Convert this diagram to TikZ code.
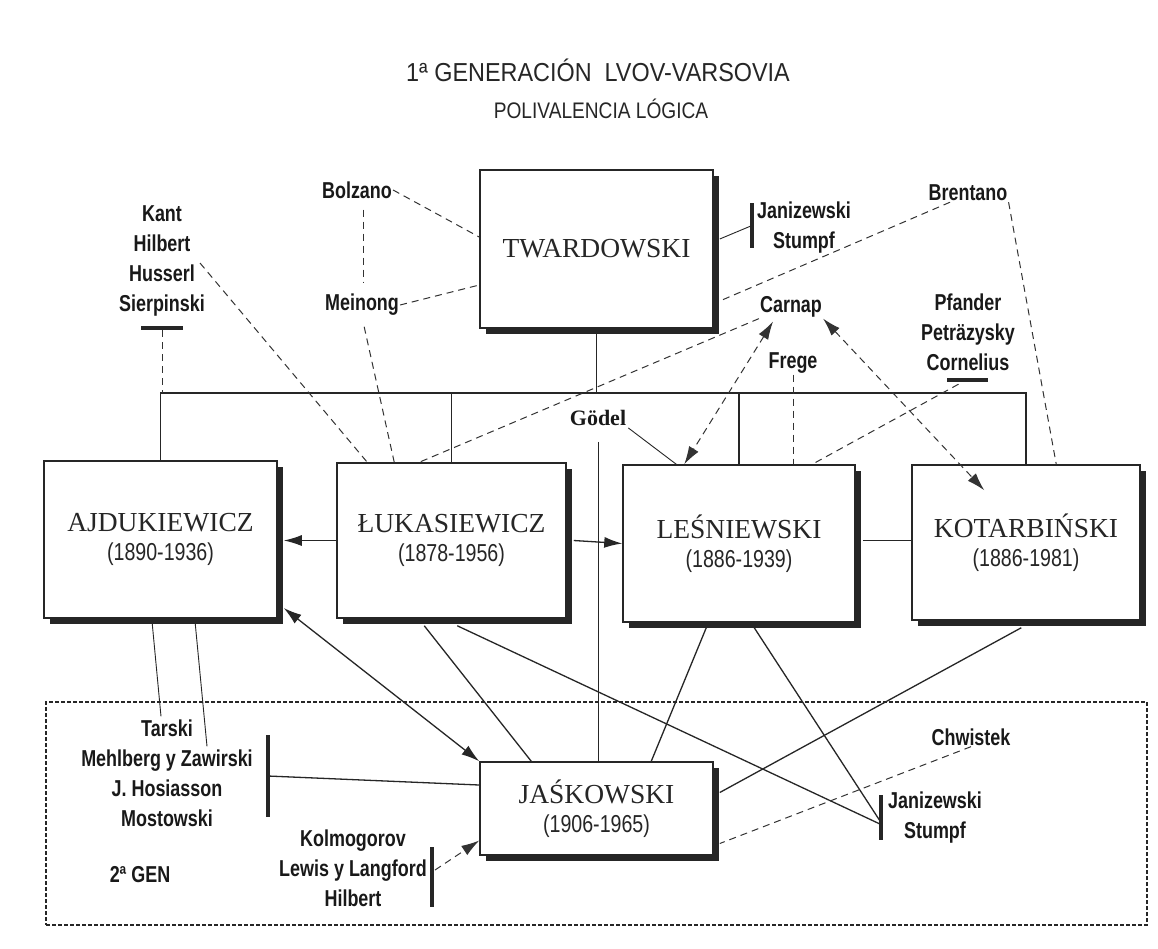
\documentclass[tikz,border=0pt]{standalone}
\usepackage{fontspec}
\setmainfont{Liberation Serif}
\newfontfamily\nsans[FakeStretch=0.78]{Liberation Sans}
\newfontfamily\ssans[FakeStretch=0.85]{Liberation Sans}
\newfontfamily\tsans[FakeStretch=0.9]{Liberation Sans}
\newfontfamily\ysans[FakeStretch=0.8]{Liberation Sans}
\usetikzlibrary{arrows.meta,shadows,calc}
\newcommand{\yrs}[1]{{\ysans\fontsize{24.5}{29}\selectfont #1}}
\begin{document}
\begin{tikzpicture}[x=1pt,y=-1pt,
 pbox/.style={draw=black!85, line width=1.5pt, fill=white, inner sep=0pt,
   drop shadow={shadow xshift=6pt, shadow yshift=-6pt, fill=black!85, opacity=1},
   align=center, font=\fontsize{27.5}{29}\selectfont, text=black!85},
 lbl/.style={inner sep=1pt, align=center, font=\nsans\bfseries\fontsize{23}{30}\selectfont, text=black!90},
 bar/.style={fill=black!85, inner sep=0pt},
 conn/.style={draw=black!85, line width=1.3pt},
 thinl/.style={draw=black!85, line width=0.9pt},
 dsh/.style={draw=black!80, line width=1pt, dash pattern=on 7pt off 5pt},
 arr/.style={-{Latex[length=18pt,width=11pt]}},
 darr/.style={{Latex[length=18pt,width=11pt]}-{Latex[length=18pt,width=11pt]}},
]
\useasboundingbox[fill=white] (0,0) rectangle (1158,948);

% second generation frame
\node[draw=black!85, line width=1.5pt, dash pattern=on 4pt off 2pt, minimum width=1101pt, minimum height=223pt, inner sep=0pt] (gen2) at (596.5,813.5) {};

% titles
\node[font=\tsans\fontsize{26}{30}\selectfont, text=black!85] (title) at (598,70) {1ª GENERACIÓN\ \ LVOV-VARSOVIA};
\node[font=\ssans\fontsize{22.5}{26}\selectfont, text=black!85] (sub) at (601,109) {POLIVALENCIA LÓGICA};

% main boxes
\node[pbox, minimum width=233pt, minimum height=158pt] (tw) at (596.5,249) {TWARDOWSKI};
\node[pbox, minimum width=233pt, minimum height=157pt] (ajd) at (160.5,539.5) {AJDUKIEWICZ\\\yrs{(1890-1936)}};
\node[pbox, minimum width=229pt, minimum height=155pt] (luk) at (451.5,540.5) {ŁUKASIEWICZ\\\yrs{(1878-1956)}};
\node[pbox, minimum width=232pt, minimum height=157pt] (les) at (739,543.5) {LEŚNIEWSKI\\\yrs{(1886-1939)}};
\node[pbox, minimum width=228pt, minimum height=155pt] (kot) at (1026,542.5) {KOTARBIŃSKI\\\yrs{(1886-1981)}};
\node[pbox, minimum width=233pt, minimum height=93pt] (jas) at (596.5,808.5) {JAŚKOWSKI\\\yrs{(1906-1965)}};

% labels
\node[lbl] (kant) at (162,261) {Kant\\Hilbert\\Husserl\\Sierpinski};
\node[lbl] (bolzano) at (357,190) {Bolzano};
\node[lbl] (meinong) at (362,305) {Meinong};
\node[lbl] (janT) at (804,228) {Janizewski\\Stumpf};
\node[lbl] (brentano) at (968,193) {Brentano};
\node[lbl] (carnap) at (791,307) {Carnap};
\node[lbl] (frege) at (793,363) {Frege};
\node[lbl] (pfander) at (968,332) {Pfander\\Peträzysky\\Cornelius};
\node[inner sep=2pt, font=\bfseries\fontsize{22}{26}\selectfont, text=black!90] (godel) at (598,418) {Gödel};
\node[lbl] (tarski) at (167,773) {Tarski\\Mehlberg y Zawirski\\J. Hosiasson\\Mostowski};
\node[lbl] (kolmo) at (353,868) {Kolmogorov\\Lewis y Langford\\Hilbert};
\node[lbl] (janB) at (935,818) {Janizewski\\Stumpf};
\node[lbl] (chwistek) at (971,737) {Chwistek};
\node[lbl] (gen) at (140,875) {2ª GEN};

% bars
\node[bar, minimum width=42pt, minimum height=4pt] (kbar) at (162,328) {};
\node[bar, minimum width=41pt, minimum height=4pt] (pbar) at (967.5,380) {};
\node[bar, minimum width=4pt, minimum height=45pt] (jbarT) at (752,225.5) {};
\node[bar, minimum width=4.5pt, minimum height=82pt] (tbar) at (268,776) {};
\node[bar, minimum width=4.5pt, minimum height=60pt] (kbarB) at (432,877) {};
\node[bar, minimum width=4.5pt, minimum height=45pt] (jbarB) at (881,817.5) {};

% bus
\coordinate (bus) at (0,393);
\draw[conn] (ajd.north) -- (ajd.north |- bus) -- (kot.north |- bus) -- (kot.north);
\draw[conn] (tw.south) -- (tw.south |- bus);
\draw[conn] (luk.north) -- (luk.north |- bus);
\draw[conn] (les.north) -- (les.north |- bus);
\draw[dsh] (kbar.south) -- (kbar.south |- bus);

% top dashed influences
\draw[dsh] (bolzano.east) -- ($(tw.west)+(0,-12)$);
\draw[dsh] (meinong.east) -- ($(tw.west)+(0,36)$);
\draw[dsh] ($(bolzano.south)+(6,10)$) -- ($(meinong.north)+(1,-10)$);
\draw[dsh, shorten <=10pt] (meinong.south) -- ($(luk.north west)+(58,0)$);
\draw[dsh] ($(kant.center)+(38,2)$) -- ($(luk.north west)+(31,0)$);
\draw[dsh] (carnap.south west) -- ($(luk.north west)+(83,0)$);
\draw[dsh] ($(brentano.south)+(-18,0)$) -- ($(tw.east)+(6,52)$);
\draw[dsh] (brentano.south east) -- ($(kot.north west)+(145,0)$);
\draw[thinl] ($(tw.east)+(6,-10)$) -- (jbarT.center);
\draw[dsh, darr] ($(carnap.south)+(-18,3)$) -- ($(les.north west)+(62,0)$);
\draw[dsh, darr] (carnap.south east) -- ($(kot.north west)+(73,26)$);
\draw[dsh] (frege.south) -- (frege.south |- les.north);
\draw[dsh] ($(pbar.south)+(-9,2)$) -- ($(les.north west)+(190,0)$);
\draw[thinl] (godel.south east) -- ($(les.north west)+(54,0)$);
\draw[thinl, shorten <=14pt] (godel.south) -- (godel.south |- jas.north);

% horizontal relations
\coordinate (ajdS) at ($(ajd.east)+(6,0)$);
\draw[conn, arr] (luk.west) -- (luk.west -| ajdS);
\draw[conn, arr] ($(luk.east)+(7,0)$) -- (les.west);
\draw[conn] ($(les.east)+(7,-3)$) -- ($(kot.west)+(0,-2)$);

% lower relations
\draw[conn, darr] ($(ajd.east)+(6,68.5)$) -- (jas.north west);
\draw[thinl] ($(ajd.south west)+(109,5)$) -- ($(tarski.north)+(-6,-2)$);
\draw[thinl] ($(ajd.south west)+(152,5)$) -- ($(tarski.north)+(40,28)$);
\draw[conn] (tbar.center) -- ($(jas.west)+(0,-23.5)$);
\draw[dsh, arr] ($(kbarB.center)+(3,-7)$) -- ($(jas.west)+(0,32)$);
\draw[conn] ($(luk.south west)+(88,7)$) -- ($(jas.north west)+(52,0)$);
\draw[conn] ($(luk.south west)+(121,7)$) -- ($(jbarB.center)+(0,7)$);
\draw[conn] ($(les.south west)+(84,5)$) -- ($(jas.north west)+(172,0)$);
\draw[conn] ($(les.south west)+(132,5)$) -- ($(jbarB.center)+(0,5)$);
\draw[conn] ($(kot.south west)+(110,7)$) -- ($(jas.east)+(6,-16)$);
\draw[dsh] (chwistek.south) -- ($(jas.east)+(6,35)$);
\end{tikzpicture}
\end{document}
